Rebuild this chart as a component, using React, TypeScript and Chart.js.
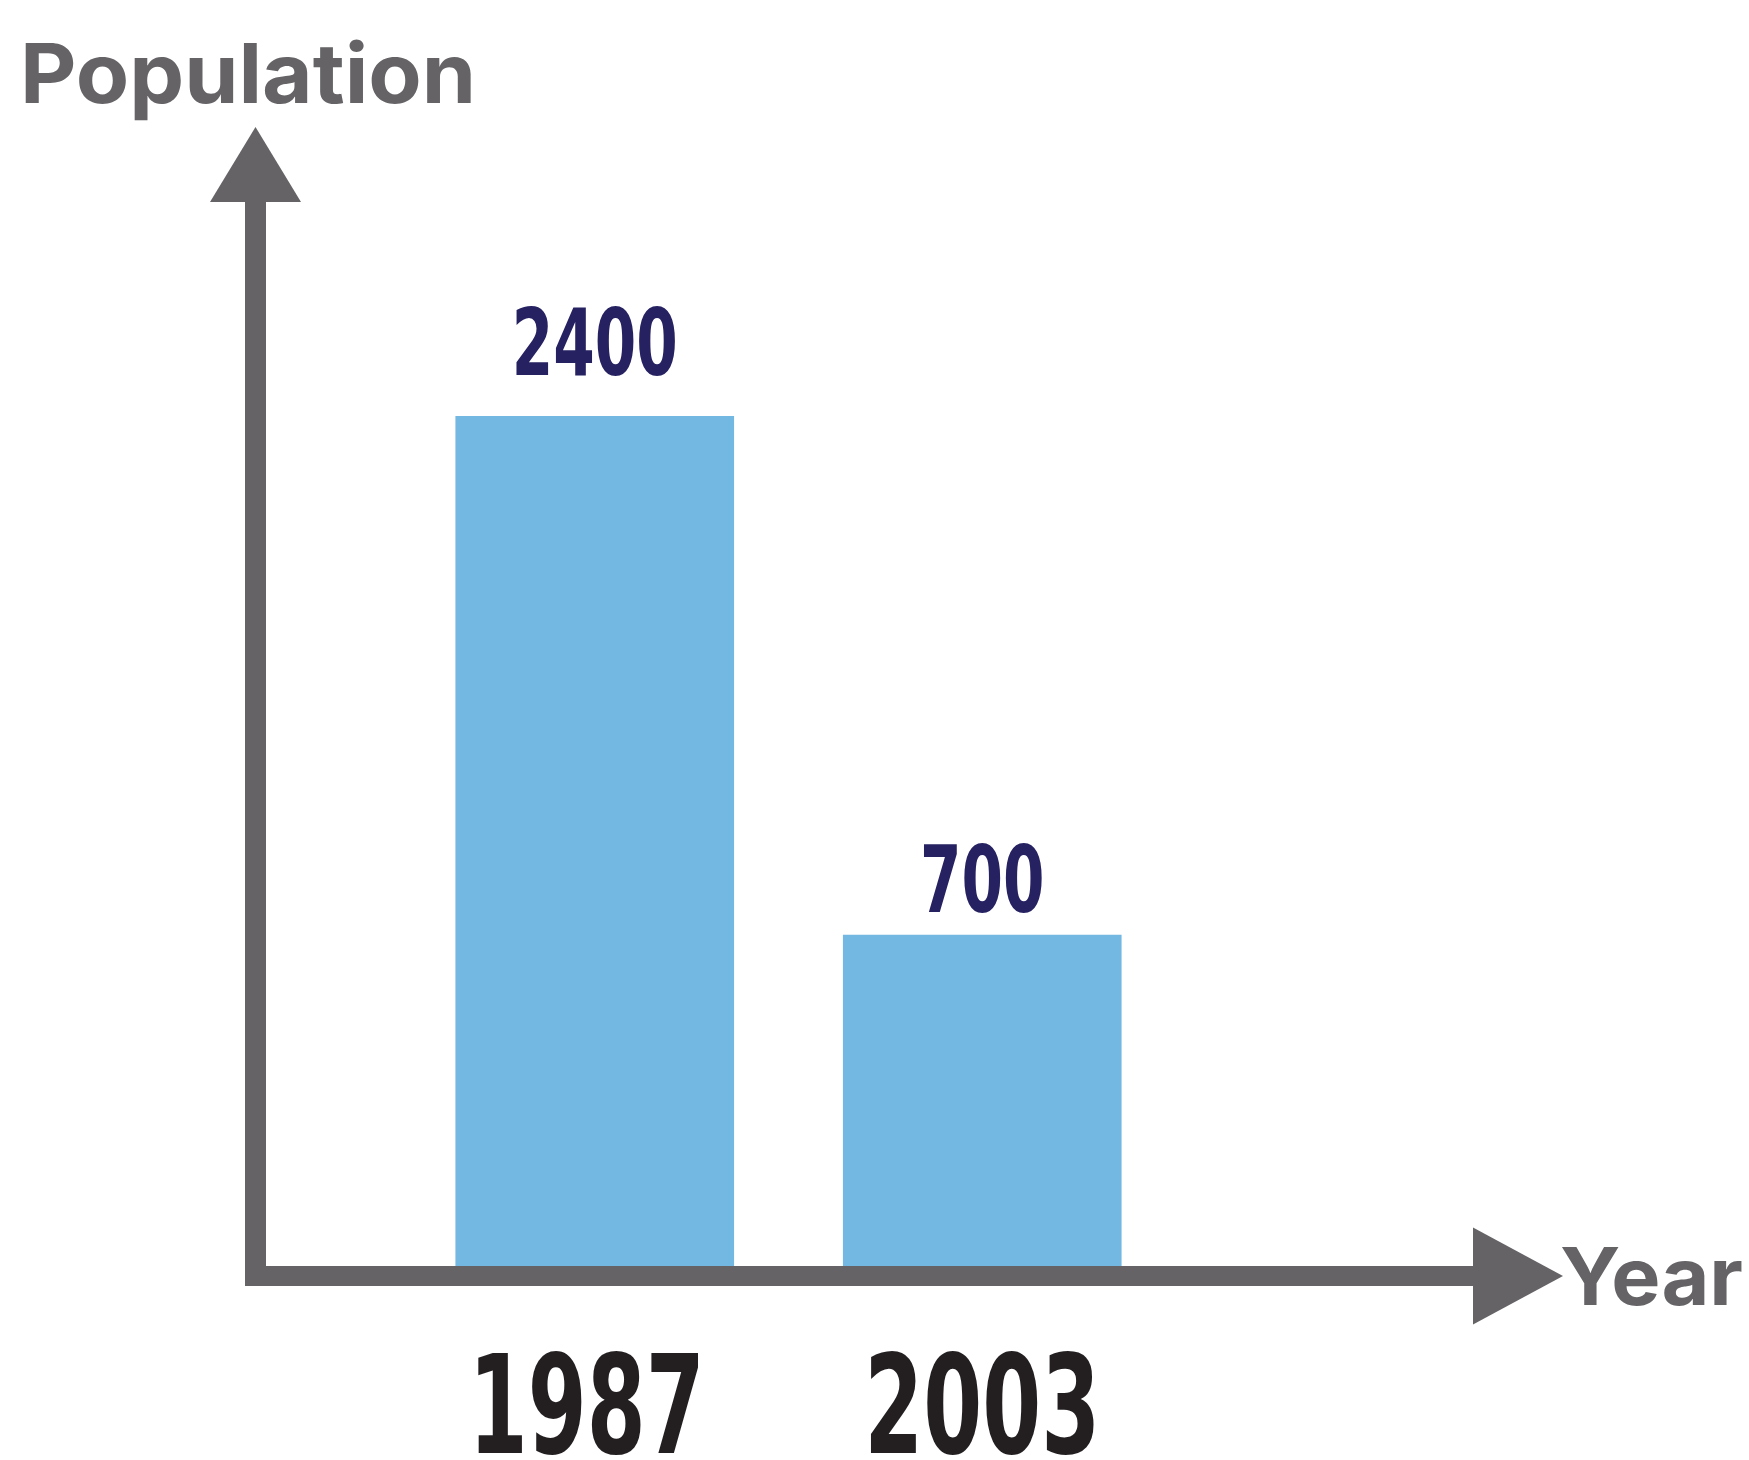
import React, { useEffect, useRef } from 'react';
import { Chart, registerables } from 'chart.js';

Chart.register(...registerables);

// ---- data ----
const categories: string[] = ['1987', '2003'];
const populationValues: number[] = [2400, 700];
const valueLabels: string[] = ['2400', '700'];
const yAxisTitle = 'Population';
const xAxisTitle = 'Year';

// ---- scale settings (visual baseline of the drawing sits below zero) ----
const Y_MIN = -384;
const Y_MAX = 2400;

// ---- styles ----
const AXIS_COLOR = '#656366';
const BAR_COLOR = '#73B8E2';
const VALUE_COLOR = '#262262';
const TICK_COLOR = '#231F20';
const DIGIT_FONT = '"Liberation Sans Narrow", "DejaVu Sans Condensed", "Liberation Sans", sans-serif';
const TITLE_FONT = 'Inter, "Open Sans", "DejaVu Sans", sans-serif';

function drawFitted(
  ctx: CanvasRenderingContext2D,
  text: string,
  x: number,
  baseline: number,
  font: string,
  targetWidth: number,
  align: CanvasTextAlign,
  color: string
) {
  ctx.save();
  ctx.font = font;
  const w = ctx.measureText(text).width || 1;
  const sx = targetWidth / w;
  ctx.translate(x, baseline);
  ctx.scale(sx, 1);
  ctx.textAlign = align;
  ctx.textBaseline = 'alphabetic';
  ctx.fillStyle = color;
  ctx.fillText(text, 0, 0);
  ctx.restore();
}

const decorPlugin = {
  id: 'decor',
  afterDatasetsDraw(chart: any, _args: any, opts: any) {
    const ctx: CanvasRenderingContext2D = chart.ctx;
    const xs = chart.scales.x;
    const ys = chart.scales.y;
    const base = Math.round(ys.getPixelForValue(Y_MIN));
    const left = opts.axisLeft;
    const vThick = opts.vThickness;
    const hThick = opts.hThickness;
    const axisCenterX = left + vThick / 2;

    ctx.save();
    ctx.fillStyle = AXIS_COLOR;
    // vertical shaft
    ctx.fillRect(left, opts.yArrowBase, vThick, base + hThick - opts.yArrowBase);
    // horizontal shaft
    ctx.fillRect(left, base, opts.xArrowBase - left, hThick);
    // y arrow head
    ctx.beginPath();
    ctx.moveTo(axisCenterX, opts.yArrowTip);
    ctx.lineTo(axisCenterX - opts.arrowHalf, opts.yArrowBase);
    ctx.lineTo(axisCenterX + opts.arrowHalf, opts.yArrowBase);
    ctx.closePath();
    ctx.fill();
    // x arrow head
    const cy = base + hThick / 2;
    ctx.beginPath();
    ctx.moveTo(opts.xArrowTip, cy);
    ctx.lineTo(opts.xArrowBase, cy - opts.xArrowHalf);
    ctx.lineTo(opts.xArrowBase, cy + opts.xArrowHalf);
    ctx.closePath();
    ctx.fill();
    ctx.restore();

    // value labels above bars
    const meta = chart.getDatasetMeta(0);
    meta.data.forEach((bar: any, i: number) => {
      const txt = valueLabels[i];
      drawFitted(
        ctx,
        txt,
        bar.x,
        bar.y - opts.labelGap[i],
        `bold 92px ${DIGIT_FONT}`,
        txt.length * 41.5,
        'center',
        VALUE_COLOR
      );
    });

    // category labels
    categories.forEach((c, i) => {
      const px = xs.getPixelForValue(i);
      drawFitted(ctx, c, px - (i === 0 ? 8 : 0), opts.tickBaseline, `bold 138px ${DIGIT_FONT}`, c.length * 59, 'center', TICK_COLOR);
    });

    // axis titles
    drawFitted(ctx, yAxisTitle, opts.yTitleX, opts.yTitleBaseline, `bold 83px ${TITLE_FONT}`, 456, 'left', AXIS_COLOR);
    drawFitted(ctx, xAxisTitle, opts.xTitleX, base + opts.xTitleOffset, `bold 80px ${TITLE_FONT}`, 183, 'left', AXIS_COLOR);
  },
};

export default function App() {
  const canvasRef = useRef<HTMLCanvasElement | null>(null);

  useEffect(() => {
    document.body.style.margin = '0';
    const canvas = canvasRef.current;
    if (!canvas) return;
    const chart = new Chart(canvas, {
      type: 'bar',
      data: {
        labels: categories,
        datasets: [
          {
            label: yAxisTitle,
            data: populationValues,
            backgroundColor: BAR_COLOR,
            borderWidth: 0,
            barThickness: 278,
            base: Y_MIN,
          } as any,
        ],
      },
      options: {
        responsive: false,
        maintainAspectRatio: false,
        animation: false,
        devicePixelRatio: 1,
        layout: { padding: { left: 401, right: 573, top: 416, bottom: 194 } },
        scales: {
          x: { display: false, offset: true, grid: { display: false } },
          y: { display: false, min: Y_MIN, max: Y_MAX, grid: { display: false } },
        },
        plugins: {
          legend: { display: false },
          tooltip: { enabled: false },
          title: { display: false },
          decor: {
            axisLeft: 245,
            vThickness: 21,
            hThickness: 20,
            yArrowTip: 127,
            yArrowBase: 202,
            arrowHalf: 45.5,
            xArrowBase: 1473,
            xArrowTip: 1563,
            xArrowHalf: 48.5,
            labelGap: [41, 23],
            tickBaseline: 1453,
            yTitleX: 20,
            yTitleBaseline: 103,
            xTitleX: 1560,
            xTitleOffset: 39,
          },
        } as any,
      },
      plugins: [decorPlugin],
    });
    return () => chart.destroy();
  }, []);

  return (
    <div style={{ position: 'fixed', left: 0, top: 0, width: 1749, height: 1460, background: '#ffffff' }}>
      <canvas ref={canvasRef} width={1749} height={1460} style={{ display: 'block', width: 1749, height: 1460 }} />
    </div>
  );
}
